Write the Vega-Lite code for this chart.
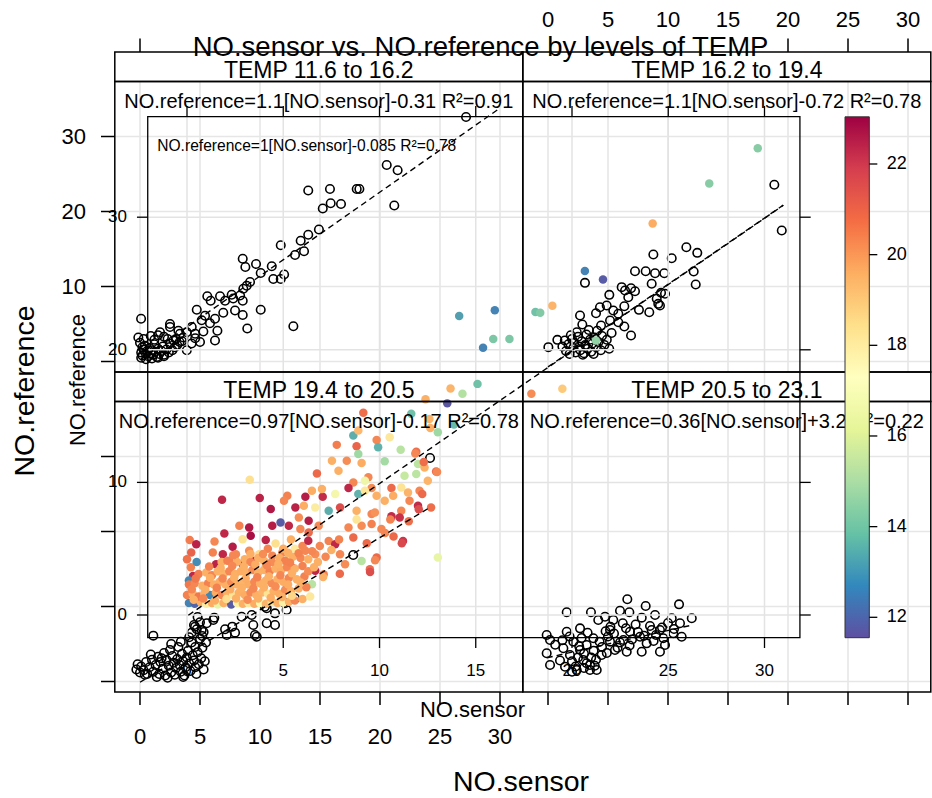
{
"$schema":"https://vega.github.io/schema/vega-lite/v6.json",
"width":932,"height":798,"autosize":{"type":"none"},"padding":0,"background":"white",
"config":{"view":{"stroke":null},"font":"Liberation Sans"},
"resolve":{"scale":{"x":"independent","y":"independent","color":"independent"}},
"datasets":{
"t5":[{"v":0},{"v":5},{"v":10},{"v":15},{"v":20},{"v":25},{"v":30}],
"t10":[{"v":0},{"v":10},{"v":20},{"v":30}],
"t10b":[{"v":10},{"v":20},{"v":30}],
"t20":[{"v":20},{"v":25},{"v":30}],
"t0":[{"v":0}],
"cb":[{"v":12},{"v":14},{"v":16},{"v":18},{"v":20},{"v":22}],
"one":[{"k":1}],
"L1":[{"s":0,"r":0.2},{"s":29.86,"r":33.63}],
"L2":[{"s":0,"r":-0.72},{"s":19.6,"r":20.84}],
"L3":[{"s":0,"r":-0.1},{"s":24.25,"r":23.3}],
"L4":[{"s":-0.1,"r":3.16},{"s":12.0,"r":7.52}],
"LB":[{"s":0.07,"r":-0.02},{"s":30.98,"r":30.9}],
"A1":[{"s":27.17,"r":32.6},{"s":20.56,"r":26.2},{"s":21.47,"r":25.5},{"s":14.02,"r":22.8},{"s":15.83,"r":23.0},{"s":18.06,"r":23.0},{"s":18.28,"r":23.0},{"s":15.23,"r":20.4},{"s":15.89,"r":21.1},{"s":16.75,"r":21.0},{"s":21.19,"r":20.8},{"s":14.91,"r":17.6},{"s":14.02,"r":16.9},{"s":13.39,"r":16.1},{"s":11.73,"r":15.5},{"s":12.92,"r":14.2},{"s":13.67,"r":14.7},{"s":8.56,"r":13.7},{"s":9.67,"r":13.0},{"s":10.98,"r":12.7},{"s":8.78,"r":12.6},{"s":10.06,"r":11.8},{"s":12.01,"r":11.6},{"s":11.11,"r":11.0},{"s":11.73,"r":11.0},{"s":9.17,"r":10.6},{"s":8.89,"r":10.1},{"s":8.61,"r":9.7},{"s":5.61,"r":8.7},{"s":6.67,"r":8.7},{"s":7.64,"r":8.9},{"s":8.34,"r":8.8},{"s":5.89,"r":8.1},{"s":7.09,"r":8.1},{"s":7.77,"r":8.4},{"s":8.56,"r":8.1},{"s":4.73,"r":6.9},{"s":7.92,"r":6.8},{"s":10.06,"r":6.9},{"s":8.56,"r":6.2},{"s":6.94,"r":6.5},{"s":5.42,"r":6.1},{"s":6.25,"r":5.7},{"s":5.14,"r":5.5},{"s":5.83,"r":5.1},{"s":8.94,"r":4.4},{"s":12.78,"r":4.7},{"s":6.45,"r":4.1},{"s":5.28,"r":4.0},{"s":4.31,"r":4.6},{"s":4.59,"r":3.7},{"s":3.33,"r":3.7},{"s":2.5,"r":5.0},{"s":2.5,"r":4.6},{"s":1.67,"r":3.9},{"s":6.25,"r":2.8},{"s":0.09,"r":5.7},{"s":-0.14,"r":3.2},{"s":3.61,"r":3.2},{"s":2.78,"r":2.8},{"s":3.9,"r":1.5},{"s":0.1,"r":1.2},{"s":0.2,"r":0.8},{"s":0.3,"r":1.6},{"s":0.4,"r":2.1},{"s":0.5,"r":1.0},{"s":0.6,"r":1.4},{"s":0.7,"r":0.7},{"s":0.8,"r":1.8},{"s":0.9,"r":1.1},{"s":1.0,"r":1.5},{"s":1.1,"r":0.9},{"s":1.2,"r":2.3},{"s":1.3,"r":1.3},{"s":1.4,"r":0.6},{"s":1.5,"r":1.7},{"s":1.6,"r":1.0},{"s":1.8,"r":1.4},{"s":1.9,"r":2.0},{"s":2.0,"r":0.9},{"s":2.2,"r":1.6},{"s":2.4,"r":1.2},{"s":2.5,"r":2.4},{"s":2.7,"r":1.5},{"s":2.9,"r":1.9},{"s":3.1,"r":2.2},{"s":3.3,"r":2.6},{"s":0.0,"r":2.5},{"s":0.2,"r":1.9},{"s":0.5,"r":0.3},{"s":1.0,"r":0.4},{"s":1.5,"r":0.5},{"s":2.0,"r":0.7},{"s":0.3,"r":3.0},{"s":0.1,"r":0.5},{"s":1.5,"r":3.5},{"s":2.0,"r":3.3},{"s":2.3,"r":3.0},{"s":3.0,"r":3.0},{"s":3.5,"r":2.7},{"s":1.2,"r":2.9},{"s":0.9,"r":3.4},{"s":4.3,"r":2.4},{"s":5.0,"r":2.6},{"s":4.6,"r":3.1},{"s":3.9,"r":3.9},{"s":3.2,"r":4.1}],
"A2":[{"s":18.86,"r":23.56},{"s":19.48,"r":17.47},{"s":11.53,"r":15.24},{"s":12.44,"r":14.49},{"s":8.78,"r":14.27},{"s":10.31,"r":13.77},{"s":7.25,"r":12.04},{"s":8.14,"r":12.04},{"s":8.92,"r":11.77},{"s":9.69,"r":11.77},{"s":12.14,"r":12.0},{"s":12.31,"r":10.27},{"s":3.08,"r":10.49},{"s":8.64,"r":10.36},{"s":6.14,"r":9.91},{"s":6.92,"r":9.77},{"s":6.42,"r":9.47},{"s":7.25,"r":9.37},{"s":5.11,"r":8.89},{"s":9.42,"r":9.16},{"s":9.75,"r":9.03},{"s":6.69,"r":8.57},{"s":9.06,"r":8.36},{"s":9.19,"r":7.69},{"s":9.33,"r":7.47},{"s":4.33,"r":7.24},{"s":4.89,"r":7.47},{"s":6.36,"r":7.37},{"s":7.58,"r":6.89},{"s":8.44,"r":6.57},{"s":4.0,"r":6.44},{"s":5.44,"r":6.8},{"s":2.67,"r":6.13},{"s":5.86,"r":6.36},{"s":5.17,"r":5.47},{"s":5.86,"r":5.24},{"s":4.42,"r":4.8},{"s":6.36,"r":4.67},{"s":2.86,"r":4.93},{"s":6.92,"r":3.47},{"s":0.78,"r":2.89},{"s":0.03,"r":1.91},{"s":1.2,"r":2.0},{"s":1.4,"r":2.8},{"s":1.5,"r":1.4},{"s":1.7,"r":2.3},{"s":1.8,"r":1.0},{"s":2.0,"r":3.0},{"s":2.1,"r":1.8},{"s":2.2,"r":2.5},{"s":2.3,"r":1.2},{"s":2.5,"r":3.3},{"s":2.6,"r":2.0},{"s":2.7,"r":1.5},{"s":2.8,"r":2.7},{"s":3.0,"r":1.1},{"s":3.1,"r":2.2},{"s":3.2,"r":3.6},{"s":3.3,"r":1.7},{"s":3.5,"r":2.9},{"s":3.6,"r":1.3},{"s":3.7,"r":2.4},{"s":3.9,"r":3.2},{"s":4.0,"r":1.9},{"s":4.2,"r":2.6},{"s":4.4,"r":1.5},{"s":4.5,"r":3.4},{"s":4.7,"r":2.2},{"s":4.9,"r":2.9},{"s":5.1,"r":1.7},{"s":3.4,"r":4.2},{"s":2.4,"r":3.9},{"s":5.3,"r":3.8},{"s":1.9,"r":3.5},{"s":2.9,"r":0.9},{"s":3.8,"r":1.0},{"s":4.1,"r":4.1}],
"A3":[{"s":1.11,"r":6.11},{"s":4.5,"r":7.53},{"s":4.73,"r":6.96},{"s":5.56,"r":7.76},{"s":6.19,"r":8.51},{"s":5.19,"r":6.07},{"s":7.09,"r":6.96},{"s":7.23,"r":6.2},{"s":7.92,"r":6.51},{"s":7.69,"r":7.31},{"s":8.47,"r":8.64},{"s":9.31,"r":8.87},{"s":9.44,"r":7.53},{"s":9.73,"r":5.97},{"s":10.56,"r":7.76},{"s":11.25,"r":7.53},{"s":10.41,"r":9.97},{"s":11.25,"r":9.09},{"s":12.22,"r":9.53},{"s":12.92,"r":11.09},{"s":12.08,"r":10.43},{"s":17.77,"r":16.87},{"s":24.17,"r":29.8},{"s":6.11,"r":8.2},{"s":5.14,"r":6.87},{"s":4.59,"r":7.31},{"s":9.58,"r":6.2},{"s":10.56,"r":9.76},{"s":-0.3,"r":1.6},{"s":-0.2,"r":2.3},{"s":0.0,"r":1.2},{"s":0.1,"r":2.0},{"s":0.3,"r":1.5},{"s":0.5,"r":2.6},{"s":0.6,"r":1.0},{"s":0.8,"r":1.9},{"s":1.0,"r":2.9},{"s":1.1,"r":1.3},{"s":1.3,"r":2.2},{"s":1.5,"r":3.3},{"s":1.6,"r":1.0},{"s":1.7,"r":2.6},{"s":1.9,"r":1.7},{"s":2.0,"r":3.8},{"s":2.1,"r":0.8},{"s":2.2,"r":2.9},{"s":2.4,"r":2.1},{"s":2.5,"r":4.2},{"s":2.6,"r":1.2},{"s":2.7,"r":3.4},{"s":2.8,"r":2.5},{"s":2.9,"r":0.9},{"s":3.0,"r":1.8},{"s":3.1,"r":3.0},{"s":3.2,"r":4.6},{"s":3.3,"r":2.2},{"s":3.4,"r":1.3},{"s":3.5,"r":3.7},{"s":3.6,"r":2.7},{"s":3.7,"r":0.8},{"s":3.8,"r":1.9},{"s":3.9,"r":3.2},{"s":4.0,"r":4.1},{"s":4.1,"r":2.4},{"s":4.2,"r":1.4},{"s":4.3,"r":5.2},{"s":4.4,"r":3.5},{"s":4.5,"r":2.8},{"s":4.6,"r":1.9},{"s":4.6,"r":4.6},{"s":4.7,"r":1.0},{"s":4.8,"r":3.9},{"s":4.9,"r":2.3},{"s":5.0,"r":5.7},{"s":5.1,"r":3.1},{"s":5.2,"r":4.5},{"s":5.3,"r":1.6},{"s":5.4,"r":2.7},{"s":0.4,"r":0.9},{"s":1.4,"r":0.6},{"s":2.3,"r":0.5},{"s":3.6,"r":0.6},{"s":1.8,"r":3.1},{"s":0.9,"r":3.6},{"s":2.6,"r":5.0},{"s":3.4,"r":5.3},{"s":4.3,"r":6.5},{"s":5.0,"r":7.9},{"s":5.3,"r":6.6},{"s":4.8,"r":8.6},{"s":5.5,"r":5.2},{"s":4.1,"r":5.9}],
"A4":[{"s":6.61,"r":10.96},{"s":10.92,"r":10.29},{"s":8.14,"r":10.07},{"s":1.56,"r":9.23},{"s":3.58,"r":9.23},{"s":6.0,"r":9.44},{"s":6.78,"r":9.23},{"s":11.98,"r":8.43},{"s":8.92,"r":8.87},{"s":7.81,"r":8.51},{"s":10.31,"r":8.43},{"s":4.75,"r":8.64},{"s":4.19,"r":8.2},{"s":5.44,"r":8.2},{"s":6.23,"r":7.76},{"s":11.0,"r":7.76},{"s":2.67,"r":7.09},{"s":5.17,"r":6.87},{"s":6.83,"r":6.64},{"s":8.64,"r":6.87},{"s":9.33,"r":6.87},{"s":10.44,"r":6.43},{"s":11.14,"r":5.97},{"s":1.56,"r":6.64},{"s":-0.11,"r":6.2},{"s":0.17,"r":5.53},{"s":7.67,"r":5.97},{"s":9.61,"r":5.76},{"s":9.75,"r":4.87},{"s":9.33,"r":3.97},{"s":7.81,"r":3.97},{"s":6.56,"r":3.97},{"s":5.58,"r":4.2},{"s":4.47,"r":3.53},{"s":0.17,"r":2.2},{"s":1.42,"r":1.97},{"s":2.39,"r":1.53},{"s":3.5,"r":1.53},{"s":4.06,"r":1.53},{"s":2.94,"r":2.87},{"s":-0.11,"r":3.76},{"s":1.28,"r":4.43},{"s":3.22,"r":4.87},{"s":2.11,"r":5.31},{"s":3.78,"r":5.76},{"s":5.17,"r":5.31},{"s":6.28,"r":5.53},{"s":8.22,"r":5.09},{"s":2.67,"r":4.2},{"s":1.83,"r":3.53},{"s":3.22,"r":2.43},{"s":2.0,"r":2.7},{"s":2.5,"r":3.2},{"s":3.0,"r":3.7},{"s":3.5,"r":2.2},{"s":4.0,"r":2.9},{"s":2.3,"r":2.0},{"s":3.0,"r":1.8},{"s":3.8,"r":4.1},{"s":4.5,"r":4.6},{"s":5.0,"r":6.0},{"s":5.5,"r":6.4},{"s":6.0,"r":5.2},{"s":6.5,"r":7.1},{"s":7.0,"r":5.6},{"s":7.5,"r":6.6},{"s":8.0,"r":6.1},{"s":8.5,"r":7.4},{"s":9.0,"r":6.2},{"s":9.5,"r":7.2},{"s":10.0,"r":7.8},{"s":10.5,"r":7.0},{"s":4.8,"r":6.7},{"s":5.2,"r":7.3},{"s":3.3,"r":6.5},{"s":2.8,"r":5.8},{"s":1.8,"r":6.0},{"s":1.2,"r":5.5},{"s":0.6,"r":4.9},{"s":4.3,"r":5.3},{"s":5.8,"r":4.5},{"s":6.8,"r":4.8},{"s":7.3,"r":7.6},{"s":8.8,"r":5.4},{"s":3.9,"r":2.1},{"s":2.0,"r":1.3},{"s":1.0,"r":2.8},{"s":3.6,"r":3.2},{"s":4.9,"r":3.8},{"s":2.6,"r":4.7}],
"B":[{"s":14.14,"r":22.55,"t":13.2},{"s":15.99,"r":22.98,"t":12.6},{"s":15.38,"r":20.16,"t":12.6},{"s":15.91,"r":20.81,"t":14.2},{"s":16.75,"r":20.81,"t":14.2},{"s":29.65,"r":35.2,"t":14.4},{"s":27.13,"r":32.55,"t":14.4},{"s":24.19,"r":29.53,"t":19.6},{"s":20.67,"r":25.95,"t":12.6},{"s":21.61,"r":25.3,"t":11.8},{"s":18.98,"r":23.33,"t":19.4},{"s":18.1,"r":22.85,"t":14.0},{"s":18.35,"r":22.8,"t":14.3},{"s":21.24,"r":20.71,"t":14.6},{"s":15.09,"r":17.43,"t":14.0},{"s":14.31,"r":16.68,"t":15.2},{"s":13.69,"r":17.09,"t":19.4},{"s":13.52,"r":15.96,"t":11.7},{"s":12.39,"r":16.27,"t":19.5},{"s":17.89,"r":16.68,"t":20.2},{"s":19.5,"r":17.06,"t":18.9},{"s":11.65,"r":15.17,"t":14.0},{"s":9.16,"r":15.25,"t":20.8},{"s":12.59,"r":14.79,"t":19.4},{"s":13.87,"r":14.36,"t":13.8},{"s":13.03,"r":13.78,"t":14.8},{"s":8.64,"r":13.53,"t":13.5},{"s":8.9,"r":13.91,"t":19.3},{"s":10.53,"r":13.4,"t":18.0},{"s":9.85,"r":13.2,"t":20.3},{"s":7.78,"r":12.83,"t":20.5},{"s":8.81,"r":12.72,"t":21.0},{"s":9.93,"r":12.65,"t":13.6},{"s":11.1,"r":12.47,"t":15.3},{"s":11.91,"r":12.32,"t":20.8},{"s":8.9,"r":12.15,"t":14.8},{"s":7.53,"r":11.64,"t":19.5},{"s":8.3,"r":11.64,"t":20.2},{"s":9.07,"r":11.47,"t":19.6},{"s":10.27,"r":11.59,"t":14.9},{"s":12.0,"r":11.39,"t":15.4},{"s":12.34,"r":11.13,"t":19.5},{"s":12.94,"r":10.83,"t":20.8},{"s":6.75,"r":10.68,"t":20.9},{"s":7.87,"r":10.88,"t":19.5},{"s":9.42,"r":10.38,"t":20.3},{"s":11.3,"r":10.51,"t":15.6},{"s":11.91,"r":10.63,"t":15.4},{"s":12.51,"r":10.13,"t":19.4},{"s":3.26,"r":10.2,"t":18.3},{"s":8.64,"r":10.0,"t":20.3},{"s":9.24,"r":10.13,"t":16.8},{"s":10.62,"r":9.58,"t":20.9},{"s":11.13,"r":9.62,"t":18.2},{"s":11.48,"r":9.24,"t":19.4},{"s":12.08,"r":9.37,"t":20.3},{"s":9.59,"r":9.58,"t":20.2},{"s":1.82,"r":8.69,"t":22.3},{"s":3.78,"r":8.82,"t":22.4},{"s":5.21,"r":8.99,"t":20.4},{"s":6.15,"r":8.92,"t":22.5},{"s":7.05,"r":8.92,"t":22.2},{"s":6.49,"r":9.37,"t":19.6},{"s":7.01,"r":9.5,"t":19.5},{"s":7.7,"r":9.12,"t":17.0},{"s":8.39,"r":9.58,"t":22.3},{"s":8.9,"r":9.12,"t":13.6},{"s":9.24,"r":9.37,"t":18.0},{"s":9.85,"r":8.99,"t":19.5},{"s":10.27,"r":8.62,"t":19.5},{"s":10.71,"r":8.99,"t":19.6},{"s":11.56,"r":8.62,"t":20.3},{"s":12.0,"r":8.24,"t":22.2},{"s":12.68,"r":8.11,"t":20.8},{"s":4.35,"r":7.99,"t":22.6},{"s":5.04,"r":8.62,"t":20.3},{"s":5.63,"r":8.11,"t":22.4},{"s":6.07,"r":8.24,"t":19.6},{"s":6.66,"r":8.11,"t":17.8},{"s":7.36,"r":7.86,"t":13.5},{"s":7.95,"r":8.11,"t":21.5},{"s":8.81,"r":7.86,"t":19.5},{"s":9.59,"r":7.61,"t":20.3},{"s":9.76,"r":7.73,"t":20.1},{"s":10.62,"r":7.35,"t":20.4},{"s":11.13,"r":7.86,"t":20.3},{"s":2.72,"r":6.73,"t":20.4},{"s":3.23,"r":6.6,"t":22.6},{"s":1.94,"r":6.15,"t":22.3},{"s":0.14,"r":5.65,"t":20.5},{"s":0.48,"r":5.34,"t":22.4},{"s":0.22,"r":4.71,"t":21.0},{"s":1.43,"r":5.54,"t":20.3},{"s":2.37,"r":5.14,"t":22.5},{"s":2.89,"r":5.72,"t":18.2},{"s":3.31,"r":5.97,"t":22.8},{"s":4.09,"r":5.65,"t":22.4},{"s":4.43,"r":6.73,"t":22.5},{"s":4.86,"r":6.98,"t":11.8},{"s":5.29,"r":6.73,"t":22.3},{"s":5.89,"r":6.48,"t":20.3},{"s":6.32,"r":7.1,"t":22.5},{"s":6.32,"r":6.22,"t":20.9},{"s":5.81,"r":7.35,"t":20.2},{"s":6.84,"r":6.73,"t":20.3},{"s":1.34,"r":4.71,"t":20.4},{"s":1.86,"r":4.59,"t":22.3},{"s":2.54,"r":4.59,"t":20.3},{"s":3.23,"r":4.84,"t":20.2},{"s":3.49,"r":4.08,"t":22.3},{"s":3.75,"r":4.59,"t":18.5},{"s":4.43,"r":4.46,"t":20.3},{"s":5.29,"r":4.33,"t":15.8},{"s":4.95,"r":4.71,"t":20.3},{"s":1.51,"r":3.83,"t":22.4},{"s":2.2,"r":4.08,"t":20.4},{"s":2.89,"r":3.83,"t":22.7},{"s":4.09,"r":3.7,"t":19.5},{"s":4.69,"r":3.83,"t":20.2},{"s":5.46,"r":3.58,"t":22.2},{"s":6.15,"r":4.84,"t":20.3},{"s":6.66,"r":4.59,"t":20.2},{"s":7.36,"r":5.59,"t":20.4},{"s":7.7,"r":5.34,"t":22.3},{"s":8.39,"r":6.6,"t":20.3},{"s":8.64,"r":5.84,"t":20.9},{"s":9.07,"r":6.73,"t":20.2},{"s":9.59,"r":6.86,"t":20.4},{"s":10.1,"r":6.48,"t":20.3},{"s":10.62,"r":7.45,"t":22.2},{"s":11.05,"r":7.35,"t":22.1},{"s":11.22,"r":5.59,"t":22.0},{"s":9.85,"r":4.33,"t":20.9},{"s":9.5,"r":3.45,"t":20.9},{"s":9.07,"r":4.08,"t":15.3},{"s":7.95,"r":4.59,"t":20.3},{"s":8.21,"r":3.83,"t":20.2},{"s":6.66,"r":3.33,"t":22.3},{"s":7.1,"r":3.08,"t":20.4},{"s":6.49,"r":2.32,"t":15.3},{"s":13.03,"r":4.33,"t":16.5},{"s":0.31,"r":2.95,"t":22.3},{"s":0.1,"r":2.6,"t":12.7},{"s":12.64,"r":14.1,"t":19.5},{"s":11.86,"r":12.18,"t":20.3},{"s":12.3,"r":11.54,"t":20.8},{"s":12.99,"r":10.78,"t":20.3},{"s":12.22,"r":9.12,"t":20.9},{"s":12.04,"r":7.97,"t":21.5},{"s":11.52,"r":7.07,"t":20.8},{"s":11.16,"r":5.41,"t":21.6},{"s":10.73,"r":5.92,"t":20.9},{"s":9.51,"r":3.24,"t":21.5},{"s":7.94,"r":3.11,"t":20.9},{"s":7.07,"r":2.86,"t":19.5},{"s":9.77,"r":4.13,"t":20.3},{"s":10.29,"r":6.18,"t":20.3},{"s":10.56,"r":7.2,"t":20.4},{"s":8.81,"r":7.2,"t":18.1},{"s":9.34,"r":5.41,"t":20.9},
{"s":0.1,"r":0.9,"t":12.6},{"s":0.4,"r":0.85,"t":12.0},{"s":0.7,"r":1.0,"t":19.5},{"s":1.0,"r":0.85,"t":17.8},{"s":1.3,"r":0.9,"t":19.6},{"s":1.6,"r":0.8,"t":16.5},{"s":1.9,"r":0.9,"t":19.5},{"s":2.3,"r":0.8,"t":11.8},{"s":2.6,"r":0.9,"t":17.5},{"s":2.9,"r":0.85,"t":19.5},{"s":3.2,"r":0.9,"t":18.0},{"s":3.5,"r":0.85,"t":19.6},{"s":3.8,"r":0.9,"t":17.2},{"s":4.1,"r":0.85,"t":19.4},{"s":4.4,"r":1.0,"t":18.3},{"s":4.7,"r":0.9,"t":19.5},{"s":5.0,"r":0.95,"t":17.6},{"s":5.3,"r":1.0,"t":19.5},{"s":5.6,"r":1.1,"t":20.3},{"s":6.0,"r":1.2,"t":19.5},{"s":6.4,"r":1.4,"t":18.0},
{"s":0.0,"r":1.5,"t":20.4},{"s":0.3,"r":1.6,"t":19.5},{"s":0.6,"r":1.4,"t":20.6},{"s":0.9,"r":1.6,"t":19.5},{"s":1.2,"r":1.5,"t":12.7},{"s":1.5,"r":1.7,"t":19.6},{"s":1.8,"r":1.5,"t":20.3},{"s":2.1,"r":1.6,"t":19.5},{"s":2.4,"r":1.5,"t":18.1},{"s":2.7,"r":1.7,"t":19.5},{"s":3.0,"r":1.5,"t":19.6},{"s":3.3,"r":1.7,"t":20.3},{"s":3.6,"r":1.5,"t":19.5},{"s":3.9,"r":1.7,"t":19.4},{"s":4.2,"r":1.6,"t":18.2},{"s":4.5,"r":1.8,"t":19.5},{"s":4.8,"r":1.6,"t":19.6},{"s":5.1,"r":1.9,"t":20.2},{"s":5.4,"r":1.8,"t":19.5},{"s":5.8,"r":2.0,"t":19.5},{"s":6.2,"r":2.1,"t":20.4},
{"s":0.1,"r":2.3,"t":20.6},{"s":0.4,"r":2.4,"t":20.3},{"s":0.8,"r":2.2,"t":19.5},{"s":1.1,"r":2.4,"t":20.4},{"s":1.4,"r":2.3,"t":19.5},{"s":1.7,"r":2.5,"t":19.6},{"s":2.0,"r":2.3,"t":19.5},{"s":2.3,"r":2.5,"t":20.2},{"s":2.6,"r":2.3,"t":19.5},{"s":2.9,"r":2.5,"t":19.4},{"s":3.2,"r":2.3,"t":19.6},{"s":3.5,"r":2.5,"t":20.3},{"s":3.8,"r":2.4,"t":19.5},{"s":4.1,"r":2.6,"t":19.5},{"s":4.4,"r":2.4,"t":20.2},{"s":4.7,"r":2.7,"t":19.5},{"s":5.0,"r":2.5,"t":19.6},{"s":5.3,"r":2.8,"t":20.3},{"s":5.7,"r":2.7,"t":19.5},{"s":6.1,"r":2.9,"t":20.4},
{"s":0.6,"r":3.1,"t":20.5},{"s":1.0,"r":3.2,"t":19.5},{"s":1.3,"r":3.0,"t":20.3},{"s":1.6,"r":3.3,"t":19.5},{"s":1.9,"r":3.1,"t":19.4},{"s":2.2,"r":3.3,"t":20.3},{"s":2.5,"r":3.1,"t":19.5},{"s":2.8,"r":3.3,"t":19.6},{"s":3.1,"r":3.2,"t":19.5},{"s":3.4,"r":3.4,"t":20.2},{"s":3.7,"r":3.2,"t":19.5},{"s":4.0,"r":3.4,"t":19.5},{"s":4.3,"r":3.3,"t":20.4},{"s":4.6,"r":3.5,"t":19.5},{"s":4.9,"r":3.4,"t":19.6},{"s":5.2,"r":3.6,"t":20.3},{"s":5.6,"r":3.5,"t":19.5},{"s":6.0,"r":3.7,"t":20.4},
{"s":1.8,"r":4.0,"t":19.5},{"s":2.1,"r":4.1,"t":20.4},{"s":2.6,"r":4.0,"t":19.6},{"s":3.0,"r":4.2,"t":19.5},{"s":3.3,"r":4.0,"t":20.3},{"s":3.7,"r":4.3,"t":19.5},{"s":4.0,"r":4.1,"t":19.5},{"s":4.4,"r":4.0,"t":20.2},{"s":4.8,"r":4.3,"t":19.6},{"s":5.1,"r":4.1,"t":20.4},{"s":5.5,"r":4.4,"t":19.5},{"s":5.9,"r":4.3,"t":20.3},{"s":6.3,"r":4.2,"t":19.5},
{"s":0.2,"r":3.6,"t":20.4},{"s":0.0,"r":4.2,"t":20.7},{"s":0.5,"r":4.0,"t":12.8},{"s":5.0,"r":5.0,"t":19.6},{"s":4.6,"r":5.4,"t":18.3},{"s":4.2,"r":5.0,"t":20.4},{"s":5.6,"r":5.0,"t":17.9},{"s":6.0,"r":5.2,"t":20.3},{"s":5.4,"r":5.7,"t":19.5},{"s":6.5,"r":4.8,"t":20.3},{"s":6.8,"r":4.0,"t":19.5},{"s":7.2,"r":4.4,"t":20.3},
{"s":0.35,"r":1.15,"t":19.5},{"s":0.85,"r":1.25,"t":20.3},{"s":1.45,"r":1.1,"t":19.6},{"s":2.05,"r":1.2,"t":18.4},{"s":2.55,"r":1.25,"t":19.5},{"s":3.15,"r":1.15,"t":20.2},{"s":3.7,"r":1.25,"t":19.5},{"s":4.35,"r":1.3,"t":19.6},{"s":4.95,"r":1.35,"t":19.5},{"s":5.45,"r":1.45,"t":18.6},
{"s":0.25,"r":1.95,"t":20.3},{"s":0.95,"r":1.9,"t":19.5},{"s":1.55,"r":2.05,"t":20.4},{"s":2.25,"r":1.95,"t":19.6},{"s":2.85,"r":2.05,"t":19.5},{"s":3.45,"r":2.0,"t":20.3},{"s":4.0,"r":2.1,"t":19.5},{"s":4.6,"r":2.15,"t":20.2},{"s":5.25,"r":2.3,"t":19.6},{"s":5.9,"r":2.45,"t":19.5},
{"s":0.45,"r":2.75,"t":20.6},{"s":1.2,"r":2.8,"t":19.5},{"s":1.85,"r":2.75,"t":20.3},{"s":2.45,"r":2.8,"t":19.5},{"s":3.05,"r":2.75,"t":19.6},{"s":3.65,"r":2.85,"t":20.4},{"s":4.25,"r":2.9,"t":19.5},{"s":4.85,"r":3.0,"t":20.3},{"s":5.45,"r":3.15,"t":19.5},{"s":6.3,"r":3.3,"t":20.2},
{"s":1.15,"r":3.65,"t":20.4},{"s":1.75,"r":3.55,"t":19.5},{"s":2.35,"r":3.7,"t":20.3},{"s":2.95,"r":3.65,"t":19.5},{"s":3.55,"r":3.8,"t":19.6},{"s":4.15,"r":3.75,"t":20.3},{"s":4.75,"r":3.85,"t":19.5},{"s":5.35,"r":3.95,"t":20.4},{"s":6.6,"r":3.6,"t":19.5},
{"s":2.4,"r":4.5,"t":20.3},{"s":3.3,"r":4.6,"t":19.5},{"s":3.95,"r":4.6,"t":20.2},{"s":5.25,"r":4.7,"t":19.5},{"s":5.8,"r":4.65,"t":20.4},{"s":6.3,"r":5.6,"t":22.3},{"s":6.9,"r":5.2,"t":20.3},{"s":7.5,"r":4.9,"t":19.5},{"s":7.9,"r":5.7,"t":20.4}]
},
"layer":[
{"data":{"name":"t5"},"mark":{"type":"rule","color":"#e6e6e6","strokeWidth":1.6},"encoding":{"x":{"field":"v","type":"quantitative","scale":{"domain":[-11.6667,66],"nice":false,"zero":false},"axis":null},"y":{"datum":-1.4,"type":"quantitative","scale":{"domain":[-58.2,48.2],"nice":false,"zero":false},"axis":null},"y2":{"datum":37.33}}},
{"data":{"name":"t10"},"mark":{"type":"rule","color":"#e6e6e6","strokeWidth":1.6},"encoding":{"y":{"field":"v","type":"quantitative","scale":{"domain":[-58.2,48.2],"nice":false,"zero":false},"axis":null},"x":{"datum":-2.1,"type":"quantitative","scale":{"domain":[-11.6667,66],"nice":false,"zero":false},"axis":null},"x2":{"datum":31.9}}},
{"data":{"name":"t5"},"mark":{"type":"rule","color":"#e6e6e6","strokeWidth":1.6},"encoding":{"x":{"field":"v","type":"quantitative","scale":{"domain":[-45.6667,32],"nice":false,"zero":false},"axis":null},"y":{"datum":-1.4,"type":"quantitative","scale":{"domain":[-58.2,48.2],"nice":false,"zero":false},"axis":null},"y2":{"datum":37.33}}},
{"data":{"name":"t10"},"mark":{"type":"rule","color":"#e6e6e6","strokeWidth":1.6},"encoding":{"y":{"field":"v","type":"quantitative","scale":{"domain":[-58.2,48.2],"nice":false,"zero":false},"axis":null},"x":{"datum":-2.1,"type":"quantitative","scale":{"domain":[-45.6667,32],"nice":false,"zero":false},"axis":null},"x2":{"datum":31.9}}},
{"data":{"name":"t5"},"mark":{"type":"rule","color":"#e6e6e6","strokeWidth":1.6},"encoding":{"x":{"field":"v","type":"quantitative","scale":{"domain":[-11.6667,66],"nice":false,"zero":false},"axis":null},"y":{"datum":-1.4,"type":"quantitative","scale":{"domain":[-15.5333,90.8667],"nice":false,"zero":false},"axis":null},"y2":{"datum":37.33}}},
{"data":{"name":"t10"},"mark":{"type":"rule","color":"#e6e6e6","strokeWidth":1.6},"encoding":{"y":{"field":"v","type":"quantitative","scale":{"domain":[-15.5333,90.8667],"nice":false,"zero":false},"axis":null},"x":{"datum":-2.1,"type":"quantitative","scale":{"domain":[-11.6667,66],"nice":false,"zero":false},"axis":null},"x2":{"datum":31.9}}},
{"data":{"name":"t5"},"mark":{"type":"rule","color":"#e6e6e6","strokeWidth":1.6},"encoding":{"x":{"field":"v","type":"quantitative","scale":{"domain":[-45.6667,32],"nice":false,"zero":false},"axis":null},"y":{"datum":-1.4,"type":"quantitative","scale":{"domain":[-15.5333,90.8667],"nice":false,"zero":false},"axis":null},"y2":{"datum":37.33}}},
{"data":{"name":"t10"},"mark":{"type":"rule","color":"#e6e6e6","strokeWidth":1.6},"encoding":{"y":{"field":"v","type":"quantitative","scale":{"domain":[-15.5333,90.8667],"nice":false,"zero":false},"axis":null},"x":{"datum":-2.1,"type":"quantitative","scale":{"domain":[-45.6667,32],"nice":false,"zero":false},"axis":null},"x2":{"datum":31.9}}},
{"data":{"name":"A1"},"mark":{"type":"point","shape":"circle","filled":false,"stroke":"black","strokeWidth":1.6,"size":72,"opacity":1},"encoding":{"x":{"field":"s","type":"quantitative","scale":{"domain":[-11.6667,66],"nice":false,"zero":false},"axis":null},"y":{"field":"r","type":"quantitative","scale":{"domain":[-58.2,48.2],"nice":false,"zero":false},"axis":null}}},
{"data":{"name":"A2"},"mark":{"type":"point","shape":"circle","filled":false,"stroke":"black","strokeWidth":1.6,"size":72,"opacity":1},"encoding":{"x":{"field":"s","type":"quantitative","scale":{"domain":[-45.6667,32],"nice":false,"zero":false},"axis":null},"y":{"field":"r","type":"quantitative","scale":{"domain":[-58.2,48.2],"nice":false,"zero":false},"axis":null}}},
{"data":{"name":"A3"},"mark":{"type":"point","shape":"circle","filled":false,"stroke":"black","strokeWidth":1.6,"size":72,"opacity":1},"encoding":{"x":{"field":"s","type":"quantitative","scale":{"domain":[-11.6667,66],"nice":false,"zero":false},"axis":null},"y":{"field":"r","type":"quantitative","scale":{"domain":[-15.5333,90.8667],"nice":false,"zero":false},"axis":null}}},
{"data":{"name":"A4"},"mark":{"type":"point","shape":"circle","filled":false,"stroke":"black","strokeWidth":1.6,"size":72,"opacity":1},"encoding":{"x":{"field":"s","type":"quantitative","scale":{"domain":[-45.6667,32],"nice":false,"zero":false},"axis":null},"y":{"field":"r","type":"quantitative","scale":{"domain":[-15.5333,90.8667],"nice":false,"zero":false},"axis":null}}},
{"data":{"name":"t5"},"mark":{"type":"rule","color":"#e3e3e3","strokeWidth":1.5},"encoding":{"x":{"field":"v","type":"quantitative","scale":{"domain":[-9.7143,38.7013],"nice":false,"zero":false},"axis":null},"y":{"datum":-1.71,"type":"quantitative","scale":{"domain":[-13.8009,46.3801],"nice":false,"zero":false},"axis":null},"y2":{"datum":37.58}}},
{"data":{"name":"t10"},"mark":{"type":"rule","color":"#e3e3e3","strokeWidth":1.5},"encoding":{"y":{"field":"v","type":"quantitative","scale":{"domain":[-13.8009,46.3801],"nice":false,"zero":false},"axis":null},"x":{"datum":-2.04,"type":"quantitative","scale":{"domain":[-9.7143,38.7013],"nice":false,"zero":false},"axis":null},"x2":{"datum":31.84}}},
{"data":{"name":"B"},"mark":{"type":"circle","size":72,"opacity":1},"encoding":{"x":{"field":"s","type":"quantitative","scale":{"domain":[-9.7143,38.7013],"nice":false,"zero":false},"axis":null},"y":{"field":"r","type":"quantitative","scale":{"domain":[-13.8009,46.3801],"nice":false,"zero":false},"axis":null},"color":{"field":"t","type":"quantitative","scale":{"scheme":"spectral","reverse":true,"domain":[11.55,23.04]},"legend":null}}},
{"data":{"name":"L1"},"mark":{"type":"line","color":"black","strokeWidth":1.4,"strokeDash":[6,4]},"encoding":{"x":{"field":"s","type":"quantitative","scale":{"domain":[-11.6667,66],"nice":false,"zero":false},"axis":null},"y":{"field":"r","type":"quantitative","scale":{"domain":[-58.2,48.2],"nice":false,"zero":false},"axis":null}}},
{"data":{"name":"L2"},"mark":{"type":"line","color":"black","strokeWidth":1.4,"strokeDash":[6,4]},"encoding":{"x":{"field":"s","type":"quantitative","scale":{"domain":[-45.6667,32],"nice":false,"zero":false},"axis":null},"y":{"field":"r","type":"quantitative","scale":{"domain":[-58.2,48.2],"nice":false,"zero":false},"axis":null}}},
{"data":{"name":"L3"},"mark":{"type":"line","color":"black","strokeWidth":1.4,"strokeDash":[6,4]},"encoding":{"x":{"field":"s","type":"quantitative","scale":{"domain":[-11.6667,66],"nice":false,"zero":false},"axis":null},"y":{"field":"r","type":"quantitative","scale":{"domain":[-15.5333,90.8667],"nice":false,"zero":false},"axis":null}}},
{"data":{"name":"L4"},"mark":{"type":"line","color":"black","strokeWidth":1.4,"strokeDash":[6,4]},"encoding":{"x":{"field":"s","type":"quantitative","scale":{"domain":[-45.6667,32],"nice":false,"zero":false},"axis":null},"y":{"field":"r","type":"quantitative","scale":{"domain":[-15.5333,90.8667],"nice":false,"zero":false},"axis":null}}},
{"data":{"name":"LB"},"mark":{"type":"line","color":"black","strokeWidth":1.4,"strokeDash":[6,4]},"encoding":{"x":{"field":"s","type":"quantitative","scale":{"domain":[-9.7143,38.7013],"nice":false,"zero":false},"axis":null},"y":{"field":"r","type":"quantitative","scale":{"domain":[-13.8009,46.3801],"nice":false,"zero":false},"axis":null}}},
{"data":{"name":"one"},"mark":{"type":"rect","filled":false,"stroke":"black","strokeWidth":1.5},"encoding":{"x":{"datum":-2.1,"type":"quantitative","scale":{"domain":[-11.6667,66],"nice":false,"zero":false},"axis":null},"x2":{"datum":31.9},"y":{"datum":-1.4,"type":"quantitative","scale":{"domain":[-58.2,48.2],"nice":false,"zero":false},"axis":null},"y2":{"datum":37.33}}},
{"data":{"name":"one"},"mark":{"type":"rect","filled":false,"stroke":"black","strokeWidth":1.5},"encoding":{"x":{"datum":-2.1,"type":"quantitative","scale":{"domain":[-11.6667,66],"nice":false,"zero":false},"axis":null},"x2":{"datum":31.9},"y":{"datum":37.33,"type":"quantitative","scale":{"domain":[-58.2,48.2],"nice":false,"zero":false},"axis":null},"y2":{"datum":41.27}}},
{"data":{"name":"one"},"mark":{"type":"rect","filled":false,"stroke":"black","strokeWidth":1.5},"encoding":{"x":{"datum":-2.1,"type":"quantitative","scale":{"domain":[-45.6667,32],"nice":false,"zero":false},"axis":null},"x2":{"datum":31.9},"y":{"datum":-1.4,"type":"quantitative","scale":{"domain":[-58.2,48.2],"nice":false,"zero":false},"axis":null},"y2":{"datum":37.33}}},
{"data":{"name":"one"},"mark":{"type":"rect","filled":false,"stroke":"black","strokeWidth":1.5},"encoding":{"x":{"datum":-2.1,"type":"quantitative","scale":{"domain":[-45.6667,32],"nice":false,"zero":false},"axis":null},"x2":{"datum":31.9},"y":{"datum":37.33,"type":"quantitative","scale":{"domain":[-58.2,48.2],"nice":false,"zero":false},"axis":null},"y2":{"datum":41.27}}},
{"data":{"name":"one"},"mark":{"type":"rect","filled":false,"stroke":"black","strokeWidth":1.5},"encoding":{"x":{"datum":-2.1,"type":"quantitative","scale":{"domain":[-11.6667,66],"nice":false,"zero":false},"axis":null},"x2":{"datum":31.9},"y":{"datum":-1.4,"type":"quantitative","scale":{"domain":[-15.5333,90.8667],"nice":false,"zero":false},"axis":null},"y2":{"datum":37.33}}},
{"data":{"name":"one"},"mark":{"type":"rect","filled":false,"stroke":"black","strokeWidth":1.5},"encoding":{"x":{"datum":-2.1,"type":"quantitative","scale":{"domain":[-11.6667,66],"nice":false,"zero":false},"axis":null},"x2":{"datum":31.9},"y":{"datum":37.33,"type":"quantitative","scale":{"domain":[-15.5333,90.8667],"nice":false,"zero":false},"axis":null},"y2":{"datum":41.27}}},
{"data":{"name":"one"},"mark":{"type":"rect","filled":false,"stroke":"black","strokeWidth":1.5},"encoding":{"x":{"datum":-2.1,"type":"quantitative","scale":{"domain":[-45.6667,32],"nice":false,"zero":false},"axis":null},"x2":{"datum":31.9},"y":{"datum":-1.4,"type":"quantitative","scale":{"domain":[-15.5333,90.8667],"nice":false,"zero":false},"axis":null},"y2":{"datum":37.33}}},
{"data":{"name":"one"},"mark":{"type":"rect","filled":false,"stroke":"black","strokeWidth":1.5},"encoding":{"x":{"datum":-2.1,"type":"quantitative","scale":{"domain":[-45.6667,32],"nice":false,"zero":false},"axis":null},"x2":{"datum":31.9},"y":{"datum":37.33,"type":"quantitative","scale":{"domain":[-15.5333,90.8667],"nice":false,"zero":false},"axis":null},"y2":{"datum":41.27}}},
{"data":{"name":"one"},"mark":{"type":"text","text":"TEMP 11.6 to 16.2","fontSize":23,"align":"center","baseline":"alphabetic","color":"black"},"encoding":{"x":{"datum":14.9,"type":"quantitative","scale":{"domain":[-11.6667,66],"nice":false,"zero":false},"axis":null},"y":{"datum":37.8,"type":"quantitative","scale":{"domain":[-58.2,48.2],"nice":false,"zero":false},"axis":null}}},
{"data":{"name":"one"},"mark":{"type":"text","text":"TEMP 16.2 to 19.4","fontSize":23,"align":"center","baseline":"alphabetic","color":"black"},"encoding":{"x":{"datum":14.9,"type":"quantitative","scale":{"domain":[-45.6667,32],"nice":false,"zero":false},"axis":null},"y":{"datum":37.8,"type":"quantitative","scale":{"domain":[-58.2,48.2],"nice":false,"zero":false},"axis":null}}},
{"data":{"name":"one"},"mark":{"type":"text","text":"TEMP 19.4 to 20.5","fontSize":23,"align":"center","baseline":"alphabetic","color":"black"},"encoding":{"x":{"datum":14.9,"type":"quantitative","scale":{"domain":[-11.6667,66],"nice":false,"zero":false},"axis":null},"y":{"datum":37.8,"type":"quantitative","scale":{"domain":[-15.5333,90.8667],"nice":false,"zero":false},"axis":null}}},
{"data":{"name":"one"},"mark":{"type":"text","text":"TEMP 20.5 to 23.1","fontSize":23,"align":"center","baseline":"alphabetic","color":"black"},"encoding":{"x":{"datum":14.9,"type":"quantitative","scale":{"domain":[-45.6667,32],"nice":false,"zero":false},"axis":null},"y":{"datum":37.8,"type":"quantitative","scale":{"domain":[-15.5333,90.8667],"nice":false,"zero":false},"axis":null}}},
{"data":{"name":"one"},"mark":{"type":"text","text":"NO.reference=1.1[NO.sensor]-0.31 R²=0.91","fontSize":20,"align":"center","baseline":"alphabetic","color":"black"},"encoding":{"x":{"datum":14.9,"type":"quantitative","scale":{"domain":[-11.6667,66],"nice":false,"zero":false},"axis":null},"y":{"datum":33.85,"type":"quantitative","scale":{"domain":[-58.2,48.2],"nice":false,"zero":false},"axis":null}}},
{"data":{"name":"one"},"mark":{"type":"text","text":"NO.reference=1.1[NO.sensor]-0.72 R²=0.78","fontSize":20,"align":"center","baseline":"alphabetic","color":"black"},"encoding":{"x":{"datum":14.9,"type":"quantitative","scale":{"domain":[-45.6667,32],"nice":false,"zero":false},"axis":null},"y":{"datum":33.85,"type":"quantitative","scale":{"domain":[-58.2,48.2],"nice":false,"zero":false},"axis":null}}},
{"data":{"name":"one"},"mark":{"type":"text","text":"NO.reference=0.97[NO.sensor]-0.17 R²=0.78","fontSize":20,"align":"center","baseline":"alphabetic","color":"black"},"encoding":{"x":{"datum":14.9,"type":"quantitative","scale":{"domain":[-11.6667,66],"nice":false,"zero":false},"axis":null},"y":{"datum":33.85,"type":"quantitative","scale":{"domain":[-15.5333,90.8667],"nice":false,"zero":false},"axis":null}}},
{"data":{"name":"one"},"mark":{"type":"text","text":"NO.reference=0.36[NO.sensor]+3.2 R²=0.22","fontSize":20,"align":"center","baseline":"alphabetic","color":"black"},"encoding":{"x":{"datum":14.9,"type":"quantitative","scale":{"domain":[-45.6667,32],"nice":false,"zero":false},"axis":null},"y":{"datum":33.85,"type":"quantitative","scale":{"domain":[-15.5333,90.8667],"nice":false,"zero":false},"axis":null}}},
{"data":{"name":"t10"},"mark":{"type":"rule","color":"black","strokeWidth":1.5},"encoding":{"y":{"field":"v","type":"quantitative","scale":{"domain":[-58.2,48.2],"nice":false,"zero":false},"axis":null},"x":{"datum":-3.25,"type":"quantitative","scale":{"domain":[-11.6667,66],"nice":false,"zero":false},"axis":null},"x2":{"datum":-2.1}}},
{"data":{"name":"t10b"},"mark":{"type":"text","fontSize":22,"align":"right","baseline":"middle","color":"black"},"encoding":{"y":{"field":"v","type":"quantitative","scale":{"domain":[-58.2,48.2],"nice":false,"zero":false},"axis":null},"x":{"datum":-4.5,"type":"quantitative","scale":{"domain":[-11.6667,66],"nice":false,"zero":false},"axis":null},"text":{"field":"v","type":"quantitative","format":"d"}}},
{"data":{"name":"t10"},"mark":{"type":"rule","color":"black","strokeWidth":1.5},"encoding":{"y":{"field":"v","type":"quantitative","scale":{"domain":[-15.5333,90.8667],"nice":false,"zero":false},"axis":null},"x":{"datum":-3.25,"type":"quantitative","scale":{"domain":[-11.6667,66],"nice":false,"zero":false},"axis":null},"x2":{"datum":-2.1}}},
{"data":{"name":"t5"},"mark":{"type":"rule","color":"black","strokeWidth":1.5},"encoding":{"x":{"field":"v","type":"quantitative","scale":{"domain":[-11.6667,66],"nice":false,"zero":false},"axis":null},"y":{"datum":-3.13,"type":"quantitative","scale":{"domain":[-15.5333,90.8667],"nice":false,"zero":false},"axis":null},"y2":{"datum":-1.4}}},
{"data":{"name":"t5"},"mark":{"type":"text","fontSize":22,"align":"center","baseline":"alphabetic","color":"black"},"encoding":{"x":{"field":"v","type":"quantitative","scale":{"domain":[-11.6667,66],"nice":false,"zero":false},"axis":null},"y":{"datum":-8.33,"type":"quantitative","scale":{"domain":[-15.5333,90.8667],"nice":false,"zero":false},"axis":null},"text":{"field":"v","type":"quantitative","format":"d"}}},
{"data":{"name":"t5"},"mark":{"type":"rule","color":"black","strokeWidth":1.5},"encoding":{"x":{"field":"v","type":"quantitative","scale":{"domain":[-45.6667,32],"nice":false,"zero":false},"axis":null},"y":{"datum":-3.13,"type":"quantitative","scale":{"domain":[-15.5333,90.8667],"nice":false,"zero":false},"axis":null},"y2":{"datum":-1.4}}},
{"data":{"name":"t0"},"mark":{"type":"rule","color":"black","strokeWidth":1.5},"encoding":{"x":{"field":"v","type":"quantitative","scale":{"domain":[-11.6667,66],"nice":false,"zero":false},"axis":null},"y":{"datum":41.27,"type":"quantitative","scale":{"domain":[-58.2,48.2],"nice":false,"zero":false},"axis":null},"y2":{"datum":43.07}}},
{"data":{"name":"t20"},"mark":{"type":"rule","color":"black","strokeWidth":1.5},"encoding":{"x":{"field":"v","type":"quantitative","scale":{"domain":[-45.6667,32],"nice":false,"zero":false},"axis":null},"y":{"datum":41.27,"type":"quantitative","scale":{"domain":[-58.2,48.2],"nice":false,"zero":false},"axis":null},"y2":{"datum":43.07}}},
{"data":{"name":"t5"},"mark":{"type":"text","fontSize":22,"align":"center","baseline":"alphabetic","color":"black"},"encoding":{"x":{"field":"v","type":"quantitative","scale":{"domain":[-45.6667,32],"nice":false,"zero":false},"axis":null},"y":{"datum":44.64,"type":"quantitative","scale":{"domain":[-58.2,48.2],"nice":false,"zero":false},"axis":null},"text":{"field":"v","type":"quantitative","format":"d"}}},
{"data":{"name":"one"},"mark":{"type":"text","text":"NO.sensor","fontSize":28.5,"align":"center","baseline":"alphabetic","color":"black"},"encoding":{"x":{"datum":31.75,"type":"quantitative","scale":{"domain":[-11.6667,66],"nice":false,"zero":false},"axis":null},"y":{"datum":-14.6,"type":"quantitative","scale":{"domain":[-15.5333,90.8667],"nice":false,"zero":false},"axis":null}}},
{"data":{"name":"one"},"mark":{"type":"text","text":"NO.reference","fontSize":28.5,"angle":270,"align":"center","baseline":"alphabetic","color":"black"},"encoding":{"x":{"datum":-8.85,"type":"quantitative","scale":{"domain":[-11.6667,66],"nice":false,"zero":false},"axis":null},"y":{"datum":-3.93,"type":"quantitative","scale":{"domain":[-58.2,48.2],"nice":false,"zero":false},"axis":null}}},
{"data":{"name":"one"},"mark":{"type":"rect","filled":false,"stroke":"black","strokeWidth":1.3},"encoding":{"x":{"datum":-2.04,"type":"quantitative","scale":{"domain":[-9.7143,38.7013],"nice":false,"zero":false},"axis":null},"x2":{"datum":31.84},"y":{"datum":-1.71,"type":"quantitative","scale":{"domain":[-13.8009,46.3801],"nice":false,"zero":false},"axis":null},"y2":{"datum":37.58}}},
{"data":{"name":"t10"},"mark":{"type":"rule","color":"black","strokeWidth":1.3},"encoding":{"y":{"field":"v","type":"quantitative","scale":{"domain":[-13.8009,46.3801],"nice":false,"zero":false},"axis":null},"x":{"datum":-2.6,"type":"quantitative","scale":{"domain":[-9.7143,38.7013],"nice":false,"zero":false},"axis":null},"x2":{"datum":-2.04}}},
{"data":{"name":"t10"},"mark":{"type":"rule","color":"black","strokeWidth":1.3},"encoding":{"y":{"field":"v","type":"quantitative","scale":{"domain":[-13.8009,46.3801],"nice":false,"zero":false},"axis":null},"x":{"datum":31.84,"type":"quantitative","scale":{"domain":[-9.7143,38.7013],"nice":false,"zero":false},"axis":null},"x2":{"datum":32.4}}},
{"data":{"name":"t5"},"mark":{"type":"rule","color":"black","strokeWidth":1.3},"encoding":{"x":{"field":"v","type":"quantitative","scale":{"domain":[-9.7143,38.7013],"nice":false,"zero":false},"axis":null},"y":{"datum":-2.49,"type":"quantitative","scale":{"domain":[-13.8009,46.3801],"nice":false,"zero":false},"axis":null},"y2":{"datum":-1.71}}},
{"data":{"name":"t5"},"mark":{"type":"rule","color":"black","strokeWidth":1.3},"encoding":{"x":{"field":"v","type":"quantitative","scale":{"domain":[-9.7143,38.7013],"nice":false,"zero":false},"axis":null},"y":{"datum":37.58,"type":"quantitative","scale":{"domain":[-13.8009,46.3801],"nice":false,"zero":false},"axis":null},"y2":{"datum":38.39}}},
{"data":{"name":"t10"},"mark":{"type":"text","fontSize":17,"align":"right","baseline":"middle","color":"black"},"encoding":{"y":{"field":"v","type":"quantitative","scale":{"domain":[-13.8009,46.3801],"nice":false,"zero":false},"axis":null},"x":{"datum":-3.12,"type":"quantitative","scale":{"domain":[-9.7143,38.7013],"nice":false,"zero":false},"axis":null},"text":{"field":"v","type":"quantitative","format":"d"}}},
{"data":{"name":"t5"},"mark":{"type":"text","fontSize":17,"align":"center","baseline":"middle","color":"black"},"encoding":{"x":{"field":"v","type":"quantitative","scale":{"domain":[-9.7143,38.7013],"nice":false,"zero":false},"axis":null},"y":{"datum":-4.26,"type":"quantitative","scale":{"domain":[-13.8009,46.3801],"nice":false,"zero":false},"axis":null},"text":{"field":"v","type":"quantitative","format":"d"}}},
{"data":{"name":"one"},"mark":{"type":"text","text":"NO.sensor","fontSize":22,"align":"center","baseline":"alphabetic","color":"black"},"encoding":{"x":{"datum":14.83,"type":"quantitative","scale":{"domain":[-9.7143,38.7013],"nice":false,"zero":false},"axis":null},"y":{"datum":-7.69,"type":"quantitative","scale":{"domain":[-13.8009,46.3801],"nice":false,"zero":false},"axis":null}}},
{"data":{"name":"one"},"mark":{"type":"text","text":"NO.reference","fontSize":22,"angle":270,"align":"center","baseline":"alphabetic","color":"black"},"encoding":{"x":{"datum":-5.32,"type":"quantitative","scale":{"domain":[-9.7143,38.7013],"nice":false,"zero":false},"axis":null},"y":{"datum":17.72,"type":"quantitative","scale":{"domain":[-13.8009,46.3801],"nice":false,"zero":false},"axis":null}}},
{"data":{"name":"one"},"mark":{"type":"text","text":"NO.reference=1[NO.sensor]-0.085 R²=0.78","fontSize":15.6,"align":"center","baseline":"alphabetic","color":"black"},"encoding":{"x":{"datum":6.22,"type":"quantitative","scale":{"domain":[-9.7143,38.7013],"nice":false,"zero":false},"axis":null},"y":{"datum":35.02,"type":"quantitative","scale":{"domain":[-13.8009,46.3801],"nice":false,"zero":false},"axis":null}}},
{"data":{"name":"one"},"mark":{"type":"text","text":"NO.sensor vs. NO.reference by levels of TEMP","fontSize":27.5,"align":"center","baseline":"alphabetic","color":"black"},"encoding":{"x":{"datum":15.25,"type":"quantitative","scale":{"domain":[-9.7143,38.7013],"nice":false,"zero":false},"axis":null},"y":{"datum":42.16,"type":"quantitative","scale":{"domain":[-13.8009,46.3801],"nice":false,"zero":false},"axis":null}}},
{"data":{"name":"one"},"mark":{"type":"rect","stroke":"#333333","strokeWidth":1,"fill":{"gradient":"linear","x1":0,"y1":1,"x2":0,"y2":0,"stops":[{"offset":0,"color":"#5e4fa2"},{"offset":0.1,"color":"#3288bd"},{"offset":0.2,"color":"#66c2a5"},{"offset":0.3,"color":"#abdda4"},{"offset":0.4,"color":"#e6f598"},{"offset":0.5,"color":"#ffffbf"},{"offset":0.6,"color":"#fee08b"},{"offset":0.7,"color":"#fdae61"},{"offset":0.8,"color":"#f46d43"},{"offset":0.9,"color":"#d53e4f"},{"offset":1,"color":"#9e0142"}]}},"encoding":{"x":{"datum":0,"type":"quantitative","scale":{"domain":[-34.7737,3.5802],"nice":false,"zero":false},"axis":null},"x2":{"datum":1},"y":{"datum":11.55,"type":"quantitative","scale":{"domain":[8.0137,25.6179],"nice":false,"zero":false},"axis":null},"y2":{"datum":23.04}}},
{"data":{"name":"cb"},"mark":{"type":"rule","color":"black","strokeWidth":1.3},"encoding":{"y":{"field":"v","type":"quantitative","scale":{"domain":[8.0137,25.6179],"nice":false,"zero":false},"axis":null},"x":{"datum":1,"type":"quantitative","scale":{"domain":[-34.7737,3.5802],"nice":false,"zero":false},"axis":null},"x2":{"datum":1.33}}},
{"data":{"name":"cb"},"mark":{"type":"text","fontSize":18,"align":"left","baseline":"middle","color":"black"},"encoding":{"y":{"field":"v","type":"quantitative","scale":{"domain":[8.0137,25.6179],"nice":false,"zero":false},"axis":null},"x":{"datum":1.716,"type":"quantitative","scale":{"domain":[-34.7737,3.5802],"nice":false,"zero":false},"axis":null},"text":{"field":"v","type":"quantitative","format":"d"}}}
]
}
